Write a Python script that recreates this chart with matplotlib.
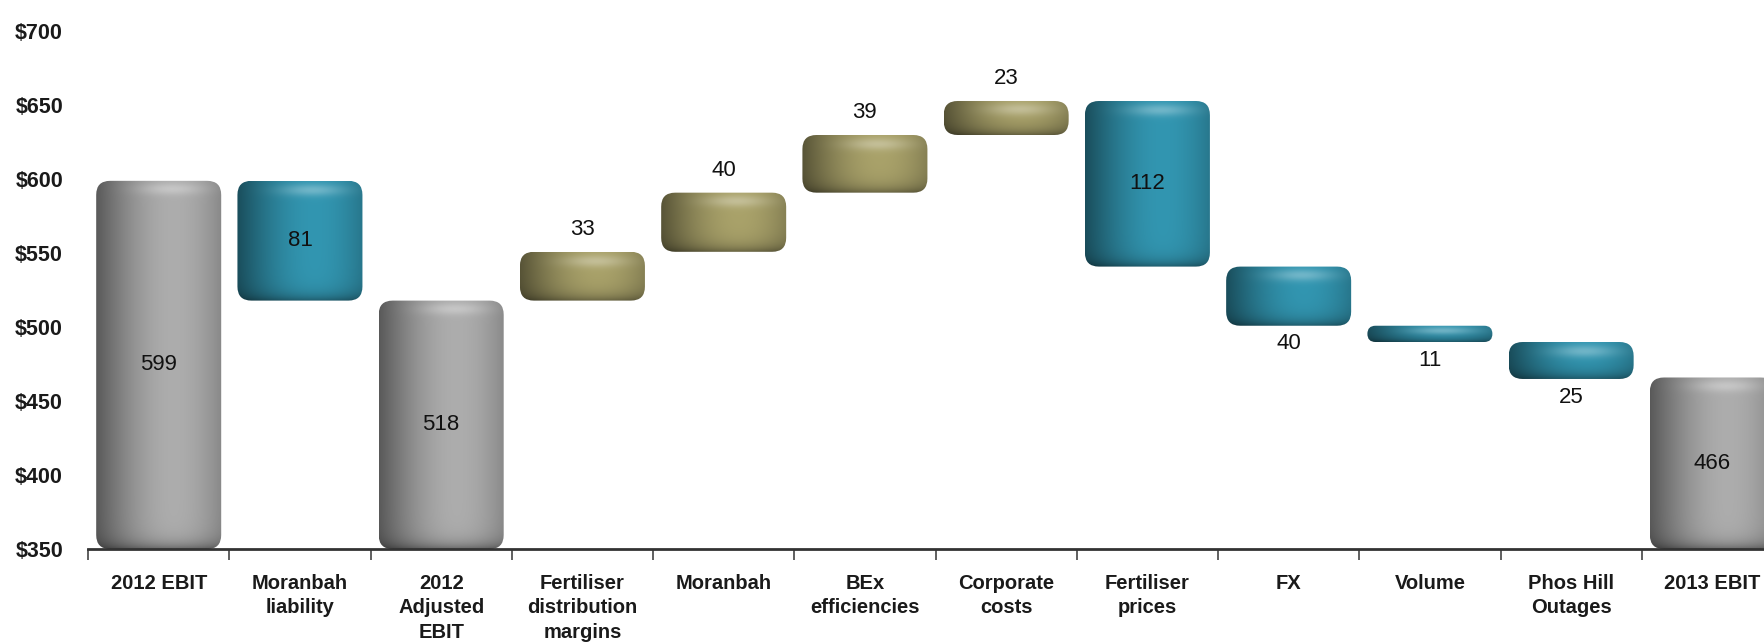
import matplotlib
matplotlib.use("Agg")
import matplotlib.pyplot as plt
import numpy as np
from matplotlib.colors import to_rgb
from matplotlib.patches import FancyBboxPatch

plt.rcParams["font.family"] = ["Liberation Sans", "DejaVu Sans"]

categories = [
    "2012 EBIT",
    "Moranbah\nliability",
    "2012\nAdjusted\nEBIT",
    "Fertiliser\ndistribution\nmargins",
    "Moranbah",
    "BEx\nefficiencies",
    "Corporate\ncosts",
    "Fertiliser\nprices",
    "FX",
    "Volume",
    "Phos Hill\nOutages",
    "2013 EBIT",
]
# kind: total / up / down
kinds = ["total", "down", "total", "up", "up", "up", "up", "down", "down", "down", "down", "total"]
values = [599, 81, 518, 33, 40, 39, 23, 112, 40, 11, 25, 466]

colours = {
    "total": "#a6a6a6",
    "up": "#a39c66",
    "down": "#3090aa",
}

Y_MIN, Y_MAX = 350, 700
BAR_W = 0.885


def bar_ranges():
    # running total for the floating bars
    out = []
    level = 0
    for kind, v in zip(kinds, values):
        if kind == "total":
            level = v
            out.append((Y_MIN, v))
        elif kind == "up":
            out.append((level, level + v))
            level += v
        else:
            out.append((level - v, level))
            level -= v
    return out


def shade(colour, w_px, h_px, r_px):
    base = np.array(to_rgb(colour))
    nx = max(int(w_px), 4)
    ny = max(int(h_px), 4)
    u = np.linspace(0, 1, nx)
    # cylinder-like horizontal lighting, brightest right of centre
    f = 0.58 + 0.46 * np.cos((u - 0.62) * np.pi * 0.85)
    img = np.clip(base[None, None, :] * f[None, :, None] * np.ones((ny, 1, 1)), 0, 1)

    y = np.arange(ny)[:, None]
    d_bot = (ny - 1 - y)
    # darker rim at the bottom
    dark = 1 - 0.38 * np.exp(-d_bot / max(r_px * 0.5, 1.5))
    img = img * dark[:, :, None]
    # soft highlight band near the top
    band_c = min(r_px * 0.6, ny * 0.3)
    band = np.exp(-((y - band_c) ** 2) / (2 * max(r_px * 0.3, 1.2) ** 2))
    peak = np.exp(-((u - 0.6) ** 2) / (2 * 0.18 ** 2))[None, :]
    hl = 0.3 * band * peak
    img = img + (1 - img) * hl[:, :, None]
    return np.clip(img, 0, 1)


def plot():
    fig = plt.figure(figsize=(17.65, 6.44), dpi=100)
    ax = fig.add_axes([0.0499, 0.1475, 0.9603, 0.8036])
    ax.set_xlim(-0.5, 11.5)
    ax.set_ylim(Y_MIN, Y_MAX)

    p0 = ax.transData.transform((0, 0))
    p1 = ax.transData.transform((1, 1))
    px_x = p1[0] - p0[0]
    px_y = p1[1] - p0[1]

    ranges = bar_ranges()
    for i, ((lo, hi), kind) in enumerate(zip(ranges, kinds)):
        x0 = i - BAR_W / 2
        h = hi - lo
        w_px = BAR_W * px_x
        h_px = h * px_y
        r_px = min(14, h_px / 2, w_px / 2)
        patch = FancyBboxPatch(
            (x0, lo), BAR_W, h,
            boxstyle=f"round,pad=0,rounding_size={r_px / px_x}",
            mutation_aspect=px_x / px_y,
            facecolor="none", edgecolor="none",
            transform=ax.transData,
        )
        ax.add_patch(patch)
        img = shade(colours[kind], w_px, h_px, r_px)
        im = ax.imshow(img, extent=(x0, x0 + BAR_W, lo, hi), origin="upper",
                       aspect="auto", interpolation="bilinear", zorder=2)
        im.set_clip_path(patch)

        v = values[i]
        if kind == "total" or (kind == "down" and v >= 50):
            ax.text(i, (lo + hi) / 2, str(v), ha="center", va="center",
                    fontsize=16, color="#111111", zorder=3)
        elif kind == "up":
            ax.annotate(str(v), (i, hi), xytext=(0, 16), textcoords="offset points",
                        ha="center", va="center", fontsize=16, color="#111111")
        else:
            ax.annotate(str(v), (i, lo), xytext=(0, -13), textcoords="offset points",
                        ha="center", va="center", fontsize=16, color="#111111")

    ax.set_xlim(-0.5, 11.5)
    ax.set_ylim(Y_MIN, Y_MAX)

    ax.set_yticks(np.arange(350, 701, 50))
    ax.set_yticklabels([f"${t}" for t in range(350, 701, 50)])
    ax.tick_params(axis="y", length=0, pad=18, labelsize=15.5)
    for lab in ax.get_yticklabels():
        lab.set_fontweight("bold")
        lab.set_color("#1a1a1a")

    ax.set_xticks(range(len(categories)))
    ax.set_xticklabels(categories, fontsize=14.5, fontweight="bold",
                       color="#1a1a1a", linespacing=1.35)
    ax.tick_params(axis="x", which="major", length=0, pad=18)
    ax.set_xticks(np.arange(-0.5, 11.6, 1), minor=True)
    ax.tick_params(axis="x", which="minor", length=8, width=1.2,
                   direction="out", color="#444444")

    for side in ["left", "top", "right"]:
        ax.spines[side].set_visible(False)
    ax.spines["bottom"].set_linewidth(2)
    ax.spines["bottom"].set_color("#333333")
    ax.set_facecolor("white")
    fig.patch.set_facecolor("white")

    fig.savefig("out.png", dpi=100)


if __name__ == "__main__":
    plot()
